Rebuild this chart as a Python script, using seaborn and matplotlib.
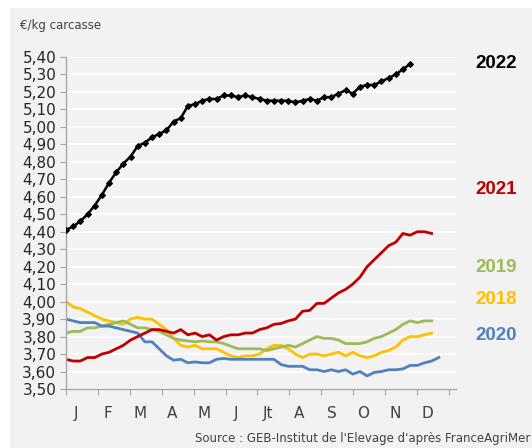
import matplotlib
matplotlib.use("Agg")
import matplotlib.pyplot as plt
from matplotlib.patches import Rectangle
import numpy as np
import pandas as pd
import seaborn as sns

# weekly prices, €/kg carcasse (week 1 = index 0)
prix_2018 = [4.00, 3.97, 3.96, 3.94, 3.92, 3.90, 3.89, 3.88, 3.87, 3.90, 3.91, 3.90, 3.90,
             3.87, 3.84, 3.79, 3.75, 3.74, 3.75, 3.73, 3.73, 3.73, 3.71, 3.69, 3.68, 3.69,
             3.69, 3.70, 3.73, 3.75, 3.75, 3.73, 3.70, 3.68, 3.70, 3.70, 3.69, 3.70, 3.71,
             3.69, 3.71, 3.69, 3.68, 3.69, 3.71, 3.72, 3.74, 3.78, 3.80, 3.80, 3.81, 3.82]
prix_2019 = [3.82, 3.83, 3.83, 3.85, 3.85, 3.86, 3.87, 3.88, 3.89, 3.87, 3.85, 3.85, 3.84,
             3.83, 3.81, 3.79, 3.78, 3.775, 3.77, 3.775, 3.77, 3.77, 3.76, 3.745, 3.73, 3.73,
             3.73, 3.73, 3.72, 3.73, 3.74, 3.75, 3.74, 3.76, 3.78, 3.80, 3.79, 3.79, 3.78,
             3.76, 3.76, 3.76, 3.77, 3.79, 3.80, 3.82, 3.84, 3.87, 3.89, 3.88, 3.89, 3.89]
prix_2020 = [3.90, 3.89, 3.88, 3.88, 3.88, 3.86, 3.86, 3.85, 3.84, 3.83, 3.82, 3.77, 3.77,
             3.73, 3.69, 3.665, 3.67, 3.65, 3.655, 3.65, 3.65, 3.67, 3.675, 3.67, 3.67, 3.67,
             3.67, 3.67, 3.67, 3.67, 3.64, 3.63, 3.63, 3.63, 3.61, 3.61, 3.60, 3.61, 3.60,
             3.61, 3.585, 3.60, 3.575, 3.595, 3.60, 3.61, 3.61, 3.615, 3.635, 3.635, 3.65,
             3.66, 3.68]
prix_2021 = [3.67, 3.66, 3.66, 3.68, 3.68, 3.70, 3.71, 3.73, 3.75, 3.78, 3.80, 3.82, 3.84,
             3.84, 3.83, 3.82, 3.84, 3.81, 3.82, 3.80, 3.81, 3.78, 3.80, 3.81, 3.81, 3.82,
             3.82, 3.84, 3.85, 3.87, 3.875, 3.89, 3.90, 3.945, 3.95, 3.99, 3.99, 4.02, 4.05,
             4.07, 4.10, 4.14, 4.20, 4.24, 4.28, 4.32, 4.34, 4.39, 4.38, 4.40, 4.40, 4.39]
prix_2022 = [4.41, 4.43, 4.46, 4.50, 4.55, 4.61, 4.68, 4.74, 4.79, 4.83, 4.89, 4.91, 4.94,
             4.96, 4.98, 5.03, 5.05, 5.12, 5.13, 5.15, 5.16, 5.16, 5.18, 5.18, 5.17, 5.18,
             5.17, 5.16, 5.15, 5.15, 5.15, 5.15, 5.14, 5.15, 5.16, 5.15, 5.17, 5.17, 5.19,
             5.21, 5.19, 5.23, 5.24, 5.24, 5.26, 5.28, 5.30, 5.33, 5.36]

years = ["2018", "2019", "2020", "2021", "2022"]
series = [prix_2018, prix_2019, prix_2020, prix_2021, prix_2022]
colors = {"2018": "#ffc000", "2019": "#9bbb59", "2020": "#4f81bd",
          "2021": "#c00000", "2022": "#000000"}
months = ["J", "F", "M", "A", "M", "J", "Jt", "A", "S", "O", "N", "D"]
y_ticks = np.round(np.arange(3.50, 5.401, 0.10), 2)

rows = []
for year, vals in zip(years, series):
    for i, v in enumerate(vals):
        rows.append({"year": year, "week": i, "prix": v})
df = pd.DataFrame(rows)

bg = "#f2f2f2"
fig = plt.figure(figsize=(5.32, 4.48), dpi=100, facecolor="white")
fig.patches.append(Rectangle((10 / 532, 0), 522 / 532, 440 / 448, transform=fig.transFigure,
                             facecolor=bg, edgecolor="none", zorder=-10))
ax = fig.add_axes([66 / 532, 59 / 448, 390 / 532, 332 / 448])
ax.set_facecolor(bg)

for year in years:
    sub = df[df["year"] == year]
    if year == "2022":
        sns.lineplot(data=sub, x="week", y="prix", color=colors[year], lw=1.8,
                     marker="D", markersize=3, markeredgecolor=colors[year],
                     markeredgewidth=0.8, ax=ax, zorder=5)
    else:
        sns.lineplot(data=sub, x="week", y="prix", color=colors[year], lw=2, ax=ax)

# axes
week_span = 53.4
ax.set_xlim(0, week_span + 1)
ax.set_ylim(3.50, 5.40)
ax.set_yticks(y_ticks)
ax.set_yticklabels([f"{t:.2f}".replace(".", ",") for t in y_ticks], fontsize=11, color="#262626")
bounds = np.linspace(0, week_span, 13)
ax.set_xticks(bounds)
ax.set_xticklabels([])
ax.set_xticks(bounds[:-1] + week_span / 24 - 0.8, minor=True)
ax.set_xticklabels(months, minor=True, fontsize=11, color="#404040")
ax.tick_params(axis="x", which="minor", length=0, pad=12)
ax.tick_params(axis="x", which="major", length=4, color="#a6a6a6", direction="out")
ax.tick_params(axis="y", length=4, color="#a6a6a6", direction="out", pad=3)
ax.yaxis.grid(True, color="white", lw=1.2)
ax.xaxis.grid(False)
ax.set_axisbelow(True)
for s in ["top", "right"]:
    ax.spines[s].set_visible(False)
for s in ["left", "bottom"]:
    ax.spines[s].set_color("#a6a6a6")
    ax.spines[s].set_linewidth(1)
ax.set_xlabel("")
ax.set_ylabel("")

fig.text(20 / 532, 1 - 25 / 448, "€/kg carcasse", fontsize=8.5, color="#404040", va="center")

label_pos = {"2022": 63, "2021": 190, "2019": 268, "2018": 300, "2020": 335}
for year, ypx in label_pos.items():
    fig.text(496 / 532, 1 - ypx / 448, year, color=colors[year], fontsize=13.5,
             fontweight="bold", family="Liberation Sans", ha="center", va="center")

fig.text(530 / 532, 1 - 438 / 448, "Source : GEB-Institut de l'Elevage d'après FranceAgriMer",
         fontsize=8.5, color="#404040", ha="right", va="center")

fig.savefig("out.png", dpi=100, facecolor=fig.get_facecolor())
